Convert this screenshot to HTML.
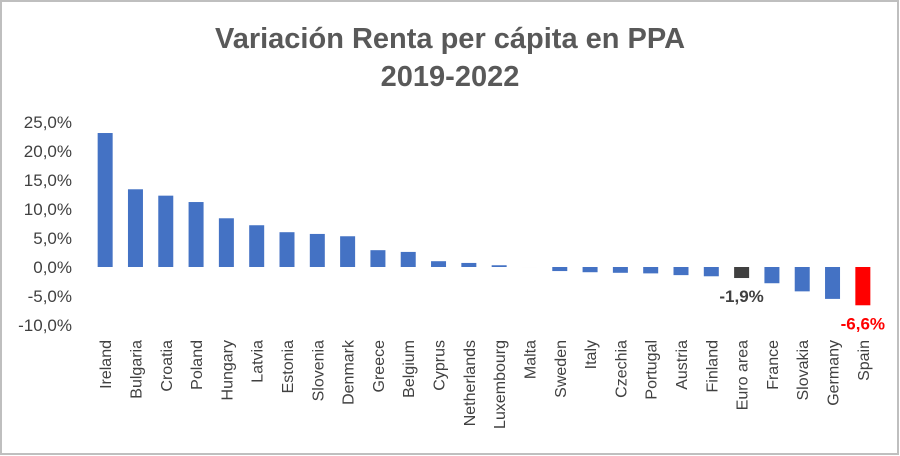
<!DOCTYPE html>
<html><head><meta charset="utf-8"><style>
html,body{margin:0;padding:0;background:#fff;}
svg{display:block;font-family:"Liberation Sans",sans-serif;}
</style></head><body>
<svg id="chart" width="900" height="456">
<rect x="1" y="1" width="897" height="453" fill="#fff" stroke="#bfbfbf" stroke-width="2"/>
<text x="450" y="48" text-anchor="middle" font-size="29" font-weight="bold" fill="#595959">Variación Renta per cápita en PPA</text>
<text x="450" y="86" text-anchor="middle" font-size="29" font-weight="bold" fill="#595959">2019-2022</text>
<g id="yaxis"></g><g id="bars"></g><g id="xlabels"></g>
</svg>
<script>
const categories=["Ireland","Bulgaria","Croatia","Poland","Hungary","Latvia","Estonia","Slovenia","Denmark","Greece","Belgium","Cyprus","Netherlands","Luxembourg","Malta","Sweden","Italy","Czechia","Portugal","Austria","Finland","Euro area","France","Slovakia","Germany","Spain"];
const values=[23.1,13.4,12.3,11.2,8.4,7.2,6.0,5.7,5.3,2.9,2.6,1.0,0.7,0.3,0.0,-0.7,-0.9,-1.0,-1.1,-1.4,-1.6,-1.9,-2.8,-4.2,-5.5,-6.6];
const yTicks=[25,20,15,10,5,0,-5,-10];
const ns="http://www.w3.org/2000/svg";
const y0=267, pxPer=5.8;
function yScale(v){return y0-v*pxPer;}
const n=categories.length, x0=90, x1=878, step=(x1-x0)/n;
function xScale(i){return x0+step*(i+0.5);}
function mk(t,a,p){const e=document.createElementNS(ns,t);for(const k in a)e.setAttribute(k,a[k]);p.appendChild(e);return e;}
const ya=document.getElementById('yaxis');
yTicks.forEach(t=>{
 const e=mk('text',{x:72,y:yScale(t)+6,'text-anchor':'end','font-size':17,fill:'#404040'},ya);
 
 
 e.textContent=t.toFixed(1).replace('.',',')+'%';
});
const bg=document.getElementById('bars'), xl=document.getElementById('xlabels');
categories.forEach((c,i)=>{
 const v=values[i], cx=xScale(i), w=15;
 const top=Math.min(yScale(v),y0), h=Math.abs(yScale(v)-y0);
 let fill='#4472c4'; if(c==='Euro area')fill='#404040'; if(c==='Spain')fill='#ff0000';
 const r=mk('rect',{x:cx-w/2,y:top,width:w,height:Math.max(h,0.01),fill:fill},bg);
 
 
 const l=mk('text',{transform:`translate(${cx+6},340) rotate(-90)`,'text-anchor':'end','font-size':16,fill:'#404040'},xl);
 
 
 l.textContent=c;
 if(c==='Euro area'||c==='Spain'){
  const d=mk('text',{x:cx,y:yScale(v)+24,'text-anchor':'middle','font-size':17,'font-weight':'bold',fill:c==='Spain'?'#ff0000':'#404040'},bg);
  
  
  d.textContent=v.toFixed(1).replace('.',',')+'%';
 }
});
</script>
</body></html>
